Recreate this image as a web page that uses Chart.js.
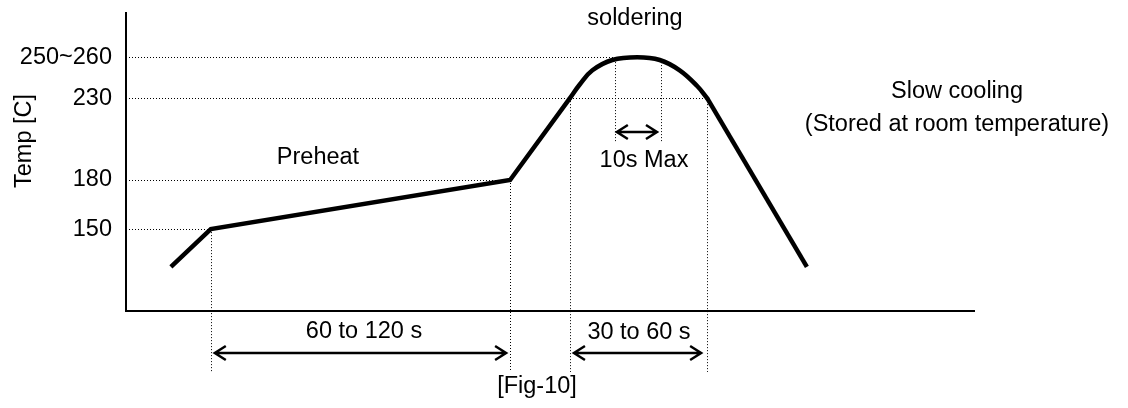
<!DOCTYPE html>
<html>
<head>
<meta charset="utf-8">
<script src="https://cdn.jsdelivr.net/npm/chart.js@4.4.1/dist/chart.umd.min.js"></script>
<style>
  html, body { margin: 0; padding: 0; background: #fff; }
  canvas { display: block; }
</style>
</head>
<body>
<canvas id="profile" width="1128" height="408"></canvas>
<script>
// 리플로우 온도 프로파일 (schematic)
const rampTime = [18, 34, 154, 178];
const rampTemp = [127, 150, 180, 230];
const peakTime = [178, 182, 187, 195, 205, 214, 222, 229, 233];
const peakTemp = [230, 238.5, 247, 253.3, 255, 253.3, 247, 237.4, 230];
const coolTime = [233, 273];
const coolTemp = [230, 127];

const tickTemps = [150, 180, 230, 255];
const tickLabels = ['150', '180', '230', '250~260'];
const guideEndTime = [34, 154, 233, 205]; // horizontal dotted lines end here

const markTimes = [34, 154, 178, 233];
const markTemps = [150, 180, 230, 230];
const maxWindow = [196, 214.5]; // 10s Max

const FONT_FAMILY = '"Liberation Sans", Arial, sans-serif';
const FONT = '23.5px ' + FONT_FAMILY;

function toPoints(xs, ys) {
  return xs.map((t, i) => ({ x: t, y: ys[i] }));
}

function line(ctx, x1, y1, x2, y2) {
  ctx.beginPath();
  ctx.moveTo(x1, y1);
  ctx.lineTo(x2, y2);
  ctx.stroke();
}

function arrow(ctx, x1, x2, y) {
  ctx.save();
  ctx.lineWidth = 2.5;
  ctx.strokeStyle = '#000';
  ctx.beginPath();
  ctx.moveTo(x1, y); ctx.lineTo(x2, y);
  ctx.moveTo(x1 + 11, y - 7); ctx.lineTo(x1, y); ctx.lineTo(x1 + 11, y + 7);
  ctx.moveTo(x2 - 11, y - 7); ctx.lineTo(x2, y); ctx.lineTo(x2 - 11, y + 7);
  ctx.stroke();
  ctx.restore();
}

const guides = {
  id: 'guides',
  beforeDatasetsDraw(chart) {
    const { ctx, chartArea } = chart;
    const x = chart.scales.x, y = chart.scales.y;
    ctx.save();
    ctx.strokeStyle = '#000';
    ctx.lineWidth = 1;
    ctx.setLineDash([1, 2]);

    tickTemps.forEach((t, i) => {
      const py = Math.round(y.getPixelForValue(t)) + 0.5;
      line(ctx, chartArea.left + 3, py, x.getPixelForValue(guideEndTime[i]), py);
    });
    markTimes.forEach((t, i) => {
      const px = Math.round(x.getPixelForValue(t)) + 0.5;
      line(ctx, px, y.getPixelForValue(markTemps[i]), px, 372);
    });
    maxWindow.forEach(t => {
      const px = Math.round(x.getPixelForValue(t)) + 0.5;
      line(ctx, px, y.getPixelForValue(252), px, 143);
    });
    ctx.restore();
  },
  afterDraw(chart) {
    const { ctx } = chart;
    const x = chart.scales.x;

    // 구간 화살표
    arrow(ctx, x.getPixelForValue(markTimes[0]) + 4, x.getPixelForValue(markTimes[1]) - 4, 353);
    arrow(ctx, x.getPixelForValue(markTimes[2]) + 4, x.getPixelForValue(markTimes[3]) - 6, 353);
    arrow(ctx, x.getPixelForValue(maxWindow[0]) + 2, x.getPixelForValue(maxWindow[1]) - 4, 132);

    ctx.save();
    ctx.fillStyle = '#000';
    ctx.font = FONT;
    ctx.textAlign = 'center';
    ctx.textBaseline = 'middle';
    ctx.fillText('soldering', 635, 19);
    ctx.fillText('Preheat', 318, 158);
    ctx.fillText('10s Max', 644, 161);
    ctx.fillText('Slow cooling', 957, 92);
    ctx.fillText('(Stored at room temperature)', 957, 125);
    ctx.fillText('60 to 120 s', 364, 332);
    ctx.fillText('30 to 60 s', 639, 333);
    ctx.fillText('[Fig-10]', 537, 387);

    // y축 제목
    ctx.translate(25, 141);
    ctx.rotate(-Math.PI / 2);
    ctx.fillText('Temp [C]', 0, 0);
    ctx.restore();
  }
};

const lineStyle = {
  showLine: true,
  borderColor: '#000',
  borderWidth: 4.5,
  pointRadius: 0,
  borderJoinStyle: 'miter',
  tension: 0
};

new Chart(document.getElementById('profile'), {
  type: 'scatter',
  data: {
    datasets: [
      { data: toPoints(rampTime, rampTemp), ...lineStyle },
      { data: toPoints(peakTime, peakTemp), ...lineStyle, tension: 0.4, borderJoinStyle: 'round', borderCapStyle: 'round' },
      { data: toPoints(coolTime, coolTemp), ...lineStyle }
    ]
  },
  options: {
    responsive: false,
    animation: false,
    devicePixelRatio: 1,
    layout: { padding: { top: 13, right: 154, left: 0, bottom: 0 } },
    plugins: {
      legend: { display: false },
      tooltip: { enabled: false }
    },
    scales: {
      x: {
        type: 'linear',
        min: 0,
        max: 340,
        grid: { display: false, drawTicks: false },
        ticks: { display: false },
        border: { color: '#000', width: 2 },
        afterFit(s) { s.height = 97; s.paddingLeft = 0; s.paddingRight = 0; }
      },
      y: {
        min: 100,
        max: 282,
        afterBuildTicks(s) { s.ticks = tickTemps.map(v => ({ value: v })); },
        ticks: {
          callback: (v, i) => tickLabels[i],
          color: '#000',
          font: { family: FONT_FAMILY, size: 23.5 },
          padding: 14
        },
        grid: { display: false, drawTicks: false },
        border: { color: '#000', width: 2 },
        afterFit(s) { s.width = 126; s.paddingTop = 0; s.paddingBottom = 0; }
      }
    }
  },
  plugins: [guides]
});
</script>
</body>
</html>
